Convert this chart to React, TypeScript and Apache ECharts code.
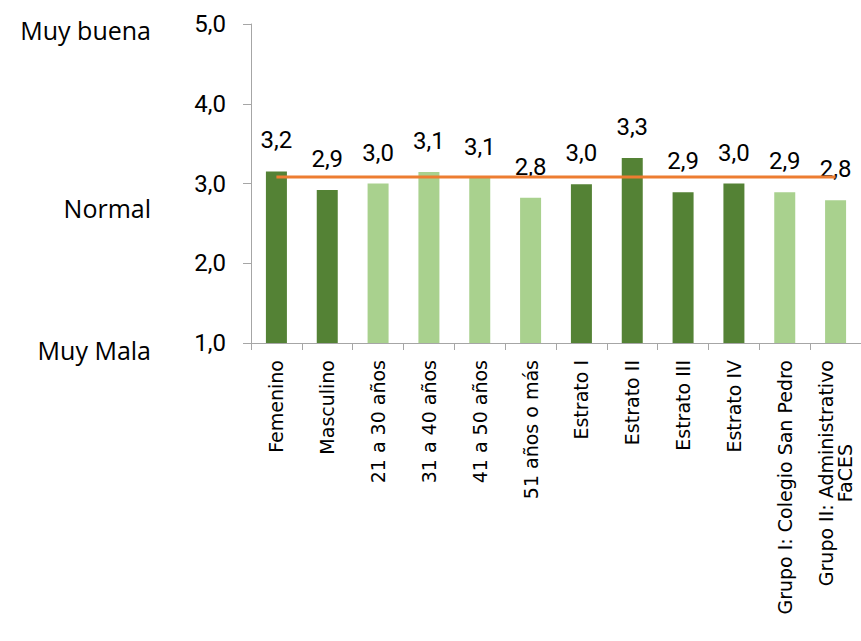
import React, { useEffect, useRef } from "react";
import * as echarts from "echarts";

const categories = [
  "Femenino",
  "Masculino",
  "21 a 30 años",
  "31 a 40 años",
  "41 a 50 años",
  "51 años o más",
  "Estrato I",
  "Estrato II",
  "Estrato III",
  "Estrato IV",
  "Grupo I: Colegio San Pedro",
  "Grupo II: Administrativo\nFaCES",
];
const values = [3.152, 2.92, 3.0, 3.145, 3.07, 2.82, 2.99, 3.32, 2.89, 3.0, 2.89, 2.79];
const groupShade = ["dark", "dark", "light", "light", "light", "light", "dark", "dark", "dark", "dark", "light", "light"];
const averageValue = 3.08;
const averageLine = categories.map(() => averageValue);
const yTicks = [1, 2, 3, 4, 5];
const scaleNames = [
  { text: "Muy buena", y: 34 },
  { text: "Normal", y: 212 },
  { text: "Muy Mala", y: 354 },
];

const DARK = "#548235";
const LIGHT = "#A9D18E";
const NUM_FONT = "Roboto";
const fmt = (v: number) => v.toFixed(1).replace(".", ",");

export default function App() {
  const ref = useRef<HTMLDivElement>(null);
  useEffect(() => {
    document.body.style.margin = "0";
    const chart = echarts.init(ref.current!, null, { renderer: "svg" });
    const catText = { fontFamily: "DejaVu Sans", fontSize: 19, lineHeight: 19, color: "#000000" };
    chart.setOption({
      animation: false,
      backgroundColor: "#ffffff",
      grid: { left: 251, top: 24, width: 623, bottom: 298, containLabel: false },
      xAxis: {
        type: "category",
        data: categories,
        boundaryGap: true,
        axisLine: { lineStyle: { color: "#A6A6A6", width: 1 } },
        axisTick: { show: true, length: 7, lineStyle: { color: "#A6A6A6" } },
        axisLabel: {
          interval: 0,
          rotate: 90,
          margin: 17,
          ...catText,
          formatter: (v: string) =>
            v
              .split("\n")
              .map((line, i) => (i === 0 ? `{a|${line}}` : `{c|${line}}`))
              .join("\n"),
          rich: {
            a: { ...catText },
            c: { ...catText, align: "center" },
          },
        },
      },
      yAxis: {
        type: "value",
        min: yTicks[0],
        max: yTicks[yTicks.length - 1],
        interval: 1,
        splitLine: { show: false },
        axisLine: { show: true, lineStyle: { color: "#A6A6A6", width: 1 } },
        axisTick: { show: true, length: 8, lineStyle: { color: "#A6A6A6" } },
        axisLabel: {
          margin: 25,
          color: "#000000",
          fontFamily: NUM_FONT,
          fontSize: 24,
          formatter: (v: number) => fmt(v),
        },
      },
      series: [
        {
          type: "bar",
          barWidth: 21,
          data: values.map((v, i) => ({
            value: v,
            itemStyle: { color: groupShade[i] === "dark" ? DARK : LIGHT },
          })),
          label: {
            show: true,
            position: "top",
            distance: 19,
            color: "#000000",
            fontFamily: NUM_FONT,
            fontSize: 24,
            formatter: (p: any) => fmt(p.value),
          },
          z: 2,
        },
        {
          type: "line",
          data: averageLine,
          symbol: "none",
          lineStyle: { color: "#ED7D31", width: 3 },
          z: 3,
        },
      ],
      graphic: scaleNames.map((s) => ({
        type: "text",
        right: 861 - 151,
        top: s.y - 17,
        style: {
          text: s.text,
          fill: "#000000",
          font: "25px 'Open Sans'",
          textAlign: "right",
        },
      })),
    });
    return () => chart.dispose();
  }, []);
  return <div ref={ref} style={{ width: 861, height: 641 }} />;
}
